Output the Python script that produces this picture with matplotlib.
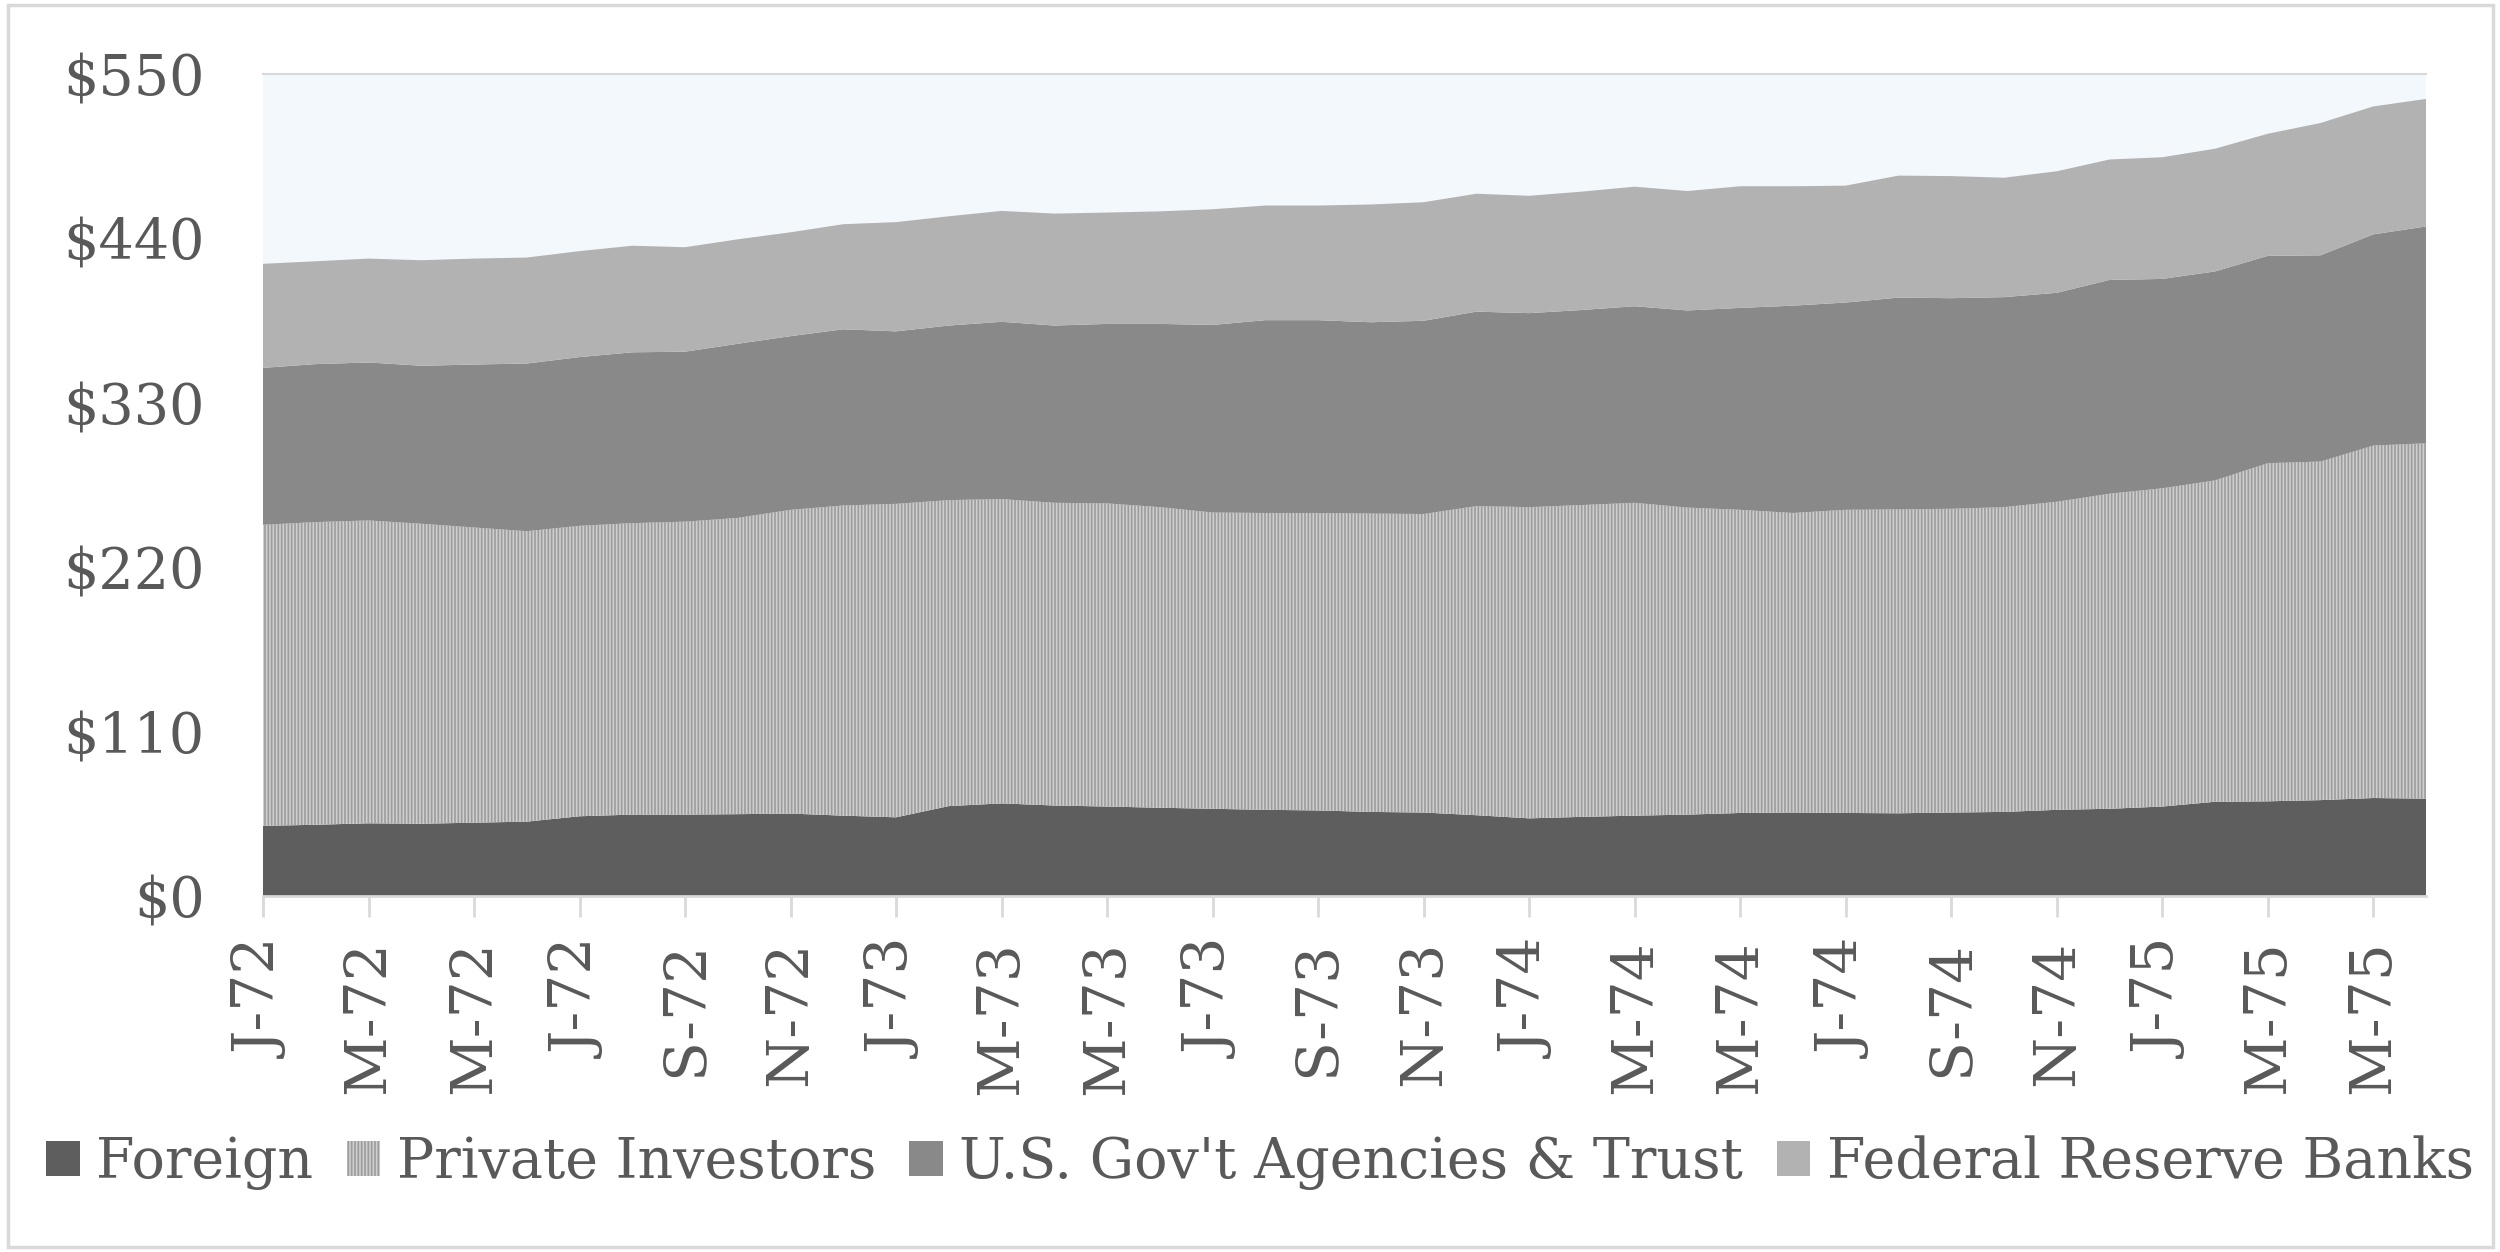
import numpy as np
import matplotlib
matplotlib.use('Agg')
import matplotlib.pyplot as plt
from matplotlib.patches import Rectangle

# monthly holdings, Jan 1972 - Jun 1975 (billions of dollars)
months = ['J-72', 'F-72', 'M-72', 'A-72', 'M-72', 'J-72', 'J-72', 'A-72', 'S-72', 'O-72', 'N-72', 'D-72',
          'J-73', 'F-73', 'M-73', 'A-73', 'M-73', 'J-73', 'J-73', 'A-73', 'S-73', 'O-73', 'N-73', 'D-73',
          'J-74', 'F-74', 'M-74', 'A-74', 'M-74', 'J-74', 'J-74', 'A-74', 'S-74', 'O-74', 'N-74', 'D-74',
          'J-75', 'F-75', 'M-75', 'A-75', 'M-75', 'J-75']

foreign = [47.0, 47.7, 48.7, 48.4, 49.1, 49.8, 53.4, 54.5, 54.5, 54.8, 55.2, 53.8,
           52.7, 60.2, 62.0, 60.6, 59.9, 59.1, 58.4, 57.7, 57.3, 56.3, 55.9, 54.1,
           52.0, 53.0, 53.8, 54.5, 55.6, 55.9, 55.6, 55.4, 55.9, 56.3, 57.7, 58.4,
           59.9, 63.1, 63.4, 64.2, 65.6, 65.2]
private = [201.4, 202.5, 202.6, 200.7, 197.5, 194.3, 194.3, 195.0, 196.0, 198.2, 203.2, 207.5,
           209.7, 204.7, 203.6, 202.5, 202.8, 201.1, 198.2, 198.6, 199.0, 199.6, 199.7, 206.8,
           208.2, 208.6, 209.3, 205.4, 202.8, 200.4, 202.8, 203.3, 203.2, 203.9, 206.1, 210.8,
           212.9, 215.0, 226.2, 226.5, 235.8, 237.7]
agencies = [105.0, 105.7, 105.7, 105.7, 109.0, 112.2, 112.9, 114.3, 113.7, 116.5, 116.2, 117.9,
            115.4, 116.8, 118.6, 118.6, 120.1, 122.6, 125.5, 129.0, 129.0, 128.0, 129.3, 130.1,
            129.8, 130.5, 131.5, 131.9, 135.1, 138.7, 138.7, 141.7, 140.9, 140.5, 139.8, 143.0,
            140.1, 139.8, 138.7, 138.0, 141.3, 145.1]
fed_reserve = [69.6, 68.8, 69.5, 70.6, 70.9, 70.9, 70.9, 71.3, 69.9, 69.9, 69.5, 70.3,
               73.1, 73.1, 74.2, 74.9, 74.5, 75.3, 77.4, 76.7, 76.7, 78.8, 79.3, 78.9,
               78.5, 79.2, 80.0, 79.9, 81.4, 79.9, 78.2, 81.6, 81.7, 79.9, 81.3, 80.6,
               81.4, 82.1, 81.7, 88.5, 85.6, 85.3]

labels = ['Foreign', 'Private Investors', "U.S. Gov't Agencies & Trust", 'Federal Reserve Banks']
colors = ['#5e5e5e', '#cfcfcf', '#898989', '#b2b2b2']
yticks = [0, 110, 220, 330, 440, 550]

txt = '#595959'
plt.rcParams['font.family'] = 'DejaVu Serif'
plt.rcParams['hatch.linewidth'] = 1.2
plt.rcParams['hatch.color'] = '#9c9c9c'

fig = plt.figure(figsize=(25, 12.52), dpi=100)
ax = fig.add_axes([0.1052, 0.2843, 0.8652, 0.6566])
ax.set_facecolor('#f2f8fc')

x = np.arange(len(months))
polys = ax.stackplot(x, foreign, private, agencies, fed_reserve, colors=colors,
                     labels=labels, linewidth=0, zorder=2)
polys[1].set_hatch('|||||')

ax.set_xlim(0, len(months) - 1)
ax.set_ylim(0, 550)
ax.set_yticks(yticks)
ax.set_yticklabels(['$%d' % v for v in yticks])
ax.set_xticks(x[::2])
ax.set_xticklabels(months[::2], rotation=90)

for s in ['left', 'right']:
    ax.spines[s].set_visible(False)
ax.spines['top'].set_color('#d9d9d9')
ax.spines['top'].set_linewidth(1.5)
ax.spines['bottom'].set_color('#d9d9d9')
ax.spines['bottom'].set_linewidth(2)
ax.spines['bottom'].set_zorder(3)

ax.tick_params(axis='y', length=0, pad=42, labelsize=40, labelcolor=txt)
ax.tick_params(axis='x', length=15, width=2, color='#d9d9d9', pad=17,
               labelsize=42, labelcolor=txt)

ax.legend(loc='center', bbox_to_anchor=(0.504, 0.0711), bbox_transform=fig.transFigure,
          ncol=4, frameon=False, fontsize=40, labelcolor=txt,
          handlelength=0.6, handleheight=0.6, handletextpad=0.3, columnspacing=0.6,
          borderpad=0, borderaxespad=0)

fig.patches.append(Rectangle((0.003, 0.004), 0.994, 0.992, transform=fig.transFigure,
                             fill=False, edgecolor='#d9d9d9', linewidth=2.5))

fig.savefig('out.png', dpi=100)
